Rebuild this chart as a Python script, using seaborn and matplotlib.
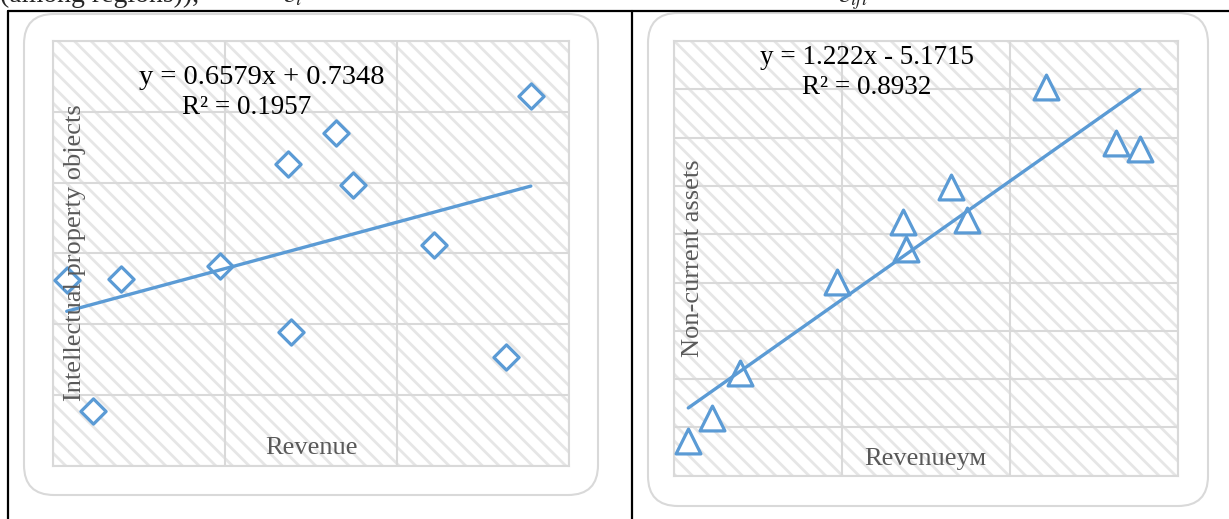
import numpy as np
import pandas as pd
import matplotlib
matplotlib.use("Agg")
import matplotlib.pyplot as plt
import seaborn as sns
from matplotlib.patches import FancyBboxPatch
from matplotlib.lines import Line2D

# left chart: revenue vs intellectual property objects
ip_revenue = [8.039, 8.196, 8.115, 8.485, 8.823, 8.683, 8.873, 8.691, 9.389, 9.108, 9.316]
ip_objects = [6.312, 6.319, 5.387, 6.413, 7.348, 7.131, 6.983, 5.942, 7.613, 6.559, 5.766]
ip_eq = "y = 0.6579x + 0.7348"
ip_r2 = "R² = 0.1957"

# right chart: revenue vs non-current assets
nca_revenue = [8.085, 8.228, 8.393, 8.968, 9.365, 9.381, 9.647, 9.746, 10.218, 10.631, 10.774]
nca_assets = [4.362, 4.600, 5.068, 6.002, 6.623, 6.350, 6.992, 6.647, 8.024, 7.441, 7.382]
nca_eq = "y = 1.222x - 5.1715"
nca_r2 = "R² = 0.8932"

sns.set_style("white")
plt.rcParams['font.family'] = ['Liberation Serif', 'DejaVu Serif']
plt.rcParams['mathtext.fontset'] = 'stix'
plt.rcParams['hatch.linewidth'] = 2.0

blue = '#5B9BD5'
grid_c = '#d9d9d9'
hatch_c = '#e6e6e6'
W, H = 1229, 519

fig = plt.figure(figsize=(W / 100, H / 100), dpi=100)


def px(x0, y0, x1, y1):
    # pixel box (from top-left) -> figure fraction [l, b, w, h]
    return [x0 / W, 1 - y1 / H, (x1 - x0) / W, (y1 - y0) / H]


def fx(x, y):
    return x / W, 1 - y / H


# table lines and rounded chart frames
for seg in [((8, 11), (1229, 11)), ((8, 11), (8, 519)), ((632, 11), (632, 519))]:
    (xa, ya), (xb, yb) = seg
    fig.add_artist(Line2D([xa / W, xb / W], [1 - ya / H, 1 - yb / H], color='black',
                          lw=1.6, transform=fig.transFigure))
for x0, y0, x1, y1 in [(24, 14, 598, 495), (648, 13, 1208, 506)]:
    box = FancyBboxPatch((x0 / 100, (H - y1) / 100), (x1 - x0) / 100, (y1 - y0) / 100,
                         boxstyle="round,pad=0,rounding_size=0.3",
                         transform=fig.dpi_scale_trans, facecolor='white',
                         edgecolor=grid_c, lw=1.5, zorder=-5)
    fig.add_artist(box)

# clipped line of document text above the table
fig.text(0.0, 1 - 2 / H, "(among regions)),", fontsize=20, va='baseline')
fig.text(283 / W, 1 - 2 / H, r"$\varepsilon_i$", fontsize=20, va='baseline')
fig.text(838 / W, 1 - 2 / H, r"$\varepsilon_{ift}$", fontsize=20, va='baseline')


def style(ax, xlim, ylim, xstep, ystep):
    ax.set_xlim(*xlim)
    ax.set_ylim(*ylim)
    ax.set_xticks(np.arange(xlim[0], xlim[1] + 1e-9, xstep))
    ax.set_yticks(np.arange(ylim[0], ylim[1] + 1e-9, ystep))
    ax.tick_params(length=0, labelbottom=False, labelleft=False)
    ax.grid(True, color=grid_c, lw=1.5)
    ax.set_axisbelow(True)
    for s in ax.spines.values():
        s.set_color(grid_c)
        s.set_linewidth(1.5)
    ax.patch.set_facecolor('white')
    ax.patch.set_edgecolor(hatch_c)
    ax.patch.set_linewidth(0)
    ax.patch.set_hatch('\\\\')
    ax.set_xlabel('')
    ax.set_ylabel('')


# left chart
ax1 = fig.add_axes(px(53.3, 41, 569, 465.7))
df1 = pd.DataFrame({'Revenue': ip_revenue, 'IP': ip_objects})
sns.scatterplot(data=df1, x='Revenue', y='IP', ax=ax1, marker='D', s=165,
                facecolor='white', edgecolor=blue, linewidth=2.3, zorder=3)
sns.regplot(data=df1, x='Revenue', y='IP', ax=ax1, scatter=False, ci=None, truncate=True,
            line_kws={'color': blue, 'lw': 2.4, 'zorder': 4})
style(ax1, (8, 9.5), (5, 8), 0.5, 0.5)

# right chart
ax2 = fig.add_axes(px(674, 41, 1177.7, 475.7))
df2 = pd.DataFrame({'Revenue': nca_revenue, 'NCA': nca_assets})
sns.scatterplot(data=df2, x='Revenue', y='NCA', ax=ax2, marker='^', s=320,
                facecolor='white', edgecolor=blue, linewidth=2.3, zorder=3)
sns.regplot(data=df2, x='Revenue', y='NCA', ax=ax2, scatter=False, ci=None, truncate=True,
            line_kws={'color': blue, 'lw': 2.4, 'zorder': 4})
style(ax2, (8, 11), (4, 8.5), 1, 0.5)

# equations and axis titles (drawn inside the plot areas, as in the source)
txt = dict(ha='center', va='center', color='black', zorder=10)
fig.text(*fx(262, 78), ip_eq, fontsize=20.5, **txt)
fig.text(*fx(247, 107), ip_r2, fontsize=19.5, **txt)
fig.text(*fx(867, 57), nca_eq, fontsize=19.5, **txt)
fig.text(*fx(867, 87), nca_r2, fontsize=19.5, **txt)

lab = dict(ha='center', va='center', fontsize=19, color='#595959', zorder=10)
fig.text(*fx(311, 448), 'Revenue', **lab)
fig.text(*fx(75, 253), 'Intellectual property objects', rotation=90, **lab)
fig.text(*fx(925, 459), 'Revenueум', **lab)
fig.text(*fx(693, 258), 'Non-current assets', rotation=90, **lab)

fig.savefig('out.png', dpi=100)
